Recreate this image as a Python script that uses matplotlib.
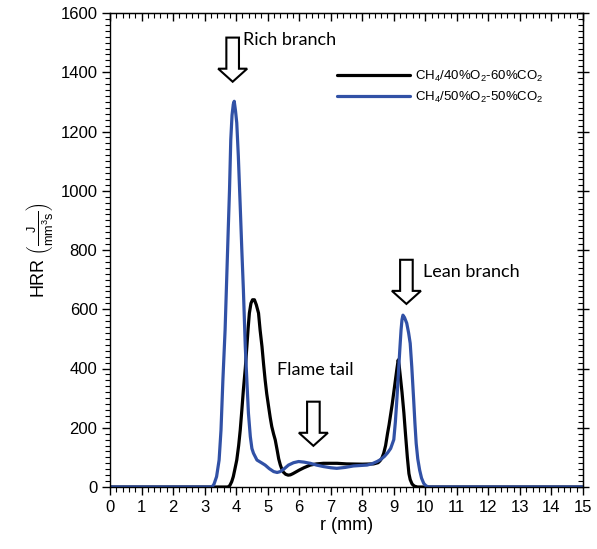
import matplotlib
matplotlib.use("Agg")
import matplotlib.pyplot as plt
from matplotlib.ticker import MultipleLocator
from matplotlib.patches import FancyArrow

# ---------------- data ----------------
r_40 = [0.0, 3.74, 3.8, 3.86, 3.91, 3.96, 4.02, 4.08, 4.13, 4.18, 4.23, 4.29,
        4.34, 4.38, 4.42, 4.47, 4.52, 4.58, 4.64, 4.71, 4.76, 4.82, 4.87, 4.92,
        4.97, 5.03, 5.08, 5.13, 5.19, 5.24, 5.3, 5.35, 5.4, 5.45, 5.5, 5.57,
        5.65, 5.72, 5.8, 5.9, 6.0, 6.15, 6.35, 6.55, 6.77, 7.2, 7.5, 8.0,
        8.36, 8.5, 8.56, 8.62, 8.68, 8.74, 8.8, 8.85, 8.89, 8.95, 9.0, 9.05,
        9.1, 9.14, 9.17, 9.2, 9.26, 9.32, 9.37, 9.43, 9.48, 9.52, 9.58, 9.65,
        9.75, 15.0]
hrr_40 = [0, 0, 5, 18, 35, 60, 91, 140, 192, 258, 328, 400,
          474, 535, 587, 620, 632, 632, 615, 587, 530, 474, 415, 361,
          315, 271, 235, 204, 178, 159, 125, 95, 75, 60, 50, 43,
          40, 41, 45, 51, 57, 65, 74, 78, 80, 80, 78, 77,
          78, 82, 88, 97, 114, 140, 180, 210, 238, 280, 320, 360,
          400, 429, 410, 380, 320, 250, 180, 100, 45, 25, 10, 3,
          0, 0]

r_50 = [0.0, 3.2, 3.25, 3.3, 3.38, 3.46, 3.52, 3.58, 3.65, 3.7, 3.75, 3.79,
        3.83, 3.87, 3.91, 3.94, 3.98, 4.02, 4.07, 4.13, 4.18, 4.23, 4.29, 4.34,
        4.39, 4.45, 4.5, 4.55, 4.66, 4.8, 4.92, 5.05, 5.19, 5.3, 5.4, 5.53,
        5.66, 5.82, 5.98, 6.15, 6.35, 6.55, 6.77, 7.0, 7.19, 7.45, 7.72, 8.0,
        8.15, 8.3, 8.47, 8.57, 8.7, 8.8, 8.9, 9.0, 9.05, 9.1, 9.15, 9.19,
        9.23, 9.26, 9.29, 9.34, 9.41, 9.47, 9.52, 9.57, 9.63, 9.67, 9.71, 9.76,
        9.82, 9.88, 9.95, 10.02, 10.1, 15.0]
hrr_50 = [0, 0, 2, 10, 35, 91, 192, 361, 530, 700, 870, 1003,
          1172, 1255, 1292, 1302, 1270, 1229, 1116, 947, 801, 666, 474, 360,
          249, 170, 130, 114, 91, 82, 74, 62, 52, 49, 52, 62,
          74, 82, 86, 84, 80, 74, 69, 65, 63, 66, 71, 73,
          74, 78, 86, 92, 103, 115, 130, 160, 220, 300, 390, 463,
          530, 565, 580, 572, 553, 520, 485, 406, 294, 215, 147, 95,
          57, 30, 12, 4, 0, 0]

label_40 = r'CH$_4$/40%O$_2$-60%CO$_2$'
label_50 = r'CH$_4$/50%O$_2$-50%CO$_2$'

annot_texts = ["Rich branch", "Flame tail", "Lean branch"]
annot_text_xy = [(4.22, 1510), (5.3, 395), (9.94, 725)]
arrow_x = [3.89, 6.45, 9.4]
arrow_top = [1517, 288, 767]

# ---------------- style ----------------
plt.rcParams['font.family'] = ['Liberation Sans', 'DejaVu Sans']
plt.rcParams['mathtext.fontset'] = 'custom'
plt.rcParams['mathtext.rm'] = 'Liberation Sans'
plt.rcParams['mathtext.it'] = 'Liberation Sans:italic'
plt.rcParams['mathtext.bf'] = 'Liberation Sans:bold'

fig = plt.figure(figsize=(5.97, 5.49), dpi=100)
ax = fig.add_axes([110/597, 62/549, 473/597, 474/549])

ax.plot(r_40, hrr_40, color='black', lw=2.3, label=label_40,
        solid_joinstyle='round', solid_capstyle='round')
ax.plot(r_50, hrr_50, color='#3151A6', lw=2.3, label=label_50,
        solid_joinstyle='round', solid_capstyle='round')

ax.set_xlim(0, 15)
ax.set_ylim(0, 1600)
ax.xaxis.set_major_locator(MultipleLocator(1))
ax.xaxis.set_minor_locator(MultipleLocator(0.2))
ax.yaxis.set_major_locator(MultipleLocator(200))
ax.yaxis.set_minor_locator(MultipleLocator(20))
ax.tick_params(which='major', direction='out', length=6, width=1, labelsize=12, pad=3)
ax.tick_params(which='minor', direction='out', length=3.5, width=0.8)

secx = ax.secondary_xaxis('top')
secx.xaxis.set_major_locator(MultipleLocator(1))
secx.xaxis.set_minor_locator(MultipleLocator(0.2))
secx.tick_params(which='major', direction='in', length=6, width=1, labeltop=False)
secx.tick_params(which='minor', direction='in', length=3.5, width=0.8)
secy = ax.secondary_yaxis('right')
secy.yaxis.set_major_locator(MultipleLocator(200))
secy.yaxis.set_minor_locator(MultipleLocator(20))
secy.tick_params(which='major', direction='inout', length=8, width=1, labelright=False)
secy.tick_params(which='minor', direction='in', length=3.5, width=0.8)

for s in ax.spines.values():
    s.set_linewidth(1.0)

ax.set_xlabel('r (mm)', fontsize=13, labelpad=2)
ax.set_ylabel(r'HRR $\left(\frac{\mathrm{J}}{\mathrm{mm^{3}s}}\right)$', fontsize=13, labelpad=4)

leg = ax.legend(loc='upper left', bbox_to_anchor=(0.48, 0.882), frameon=False,
                fontsize=9.5, handlelength=5.5, handletextpad=0.4,
                labelspacing=0.45, borderpad=0, borderaxespad=0)

# hollow block arrows (vertical, pointing down)
shaft_w = 0.40
head_w = 0.92
head_len = 44
total_len = 149
for x, top in zip(arrow_x, arrow_top):
    arr = FancyArrow(x, top, 0, -total_len, width=shaft_w, head_width=head_w,
                     head_length=head_len, length_includes_head=True,
                     facecolor='white', edgecolor='black', lw=1.5, zorder=5)
    ax.add_patch(arr)

for txt, (tx, ty) in zip(annot_texts, annot_text_xy):
    ax.text(tx, ty, txt, fontsize=13, family=['Lato', 'DejaVu Sans'],
            ha='left', va='center', zorder=6)

fig.savefig('out.png', dpi=100)
